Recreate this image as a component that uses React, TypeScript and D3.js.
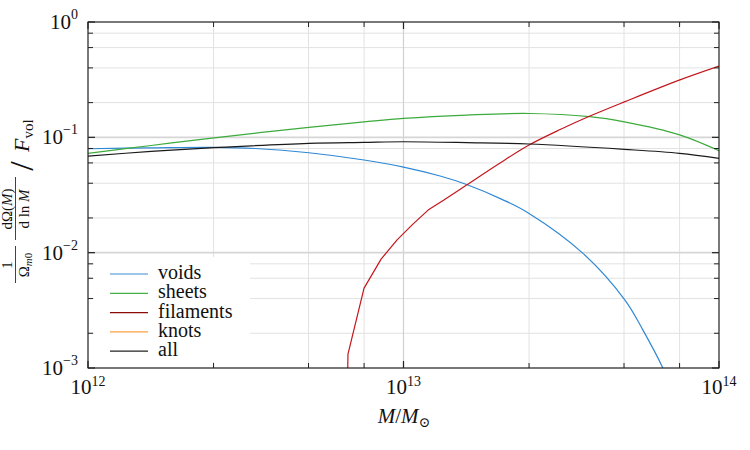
import React from "react";
import * as d3 from "d3";

// log10(M) samples and values
const voidsLogM = [12.0, 12.2, 12.4, 12.53, 12.7, 12.875, 13.0, 13.116, 13.2, 13.312, 13.398, 13.569, 13.702, 13.759, 13.822, 13.9];
const voidsVal = [0.0796, 0.081, 0.0819, 0.080, 0.0735, 0.0636, 0.0552, 0.0462, 0.039, 0.029, 0.0219, 0.00986, 0.00388, 0.00213, 0.001, 0.0003];

const sheetsLogM = [12.0, 12.2, 12.4, 12.7, 12.875, 13.0, 13.2, 13.398, 13.59, 13.7, 13.875, 14.0];
const sheetsVal = [0.0727, 0.085, 0.099, 0.122, 0.136, 0.146, 0.156, 0.161, 0.151, 0.136, 0.105, 0.0765];

const filamentsLogM = [12.774, 12.824, 12.875, 12.929, 12.979, 13.029, 13.078, 13.128, 13.2, 13.3, 13.398, 13.5, 13.591, 13.702, 13.876, 14.0];
const filamentsVal = [1e-12, 0.00132, 0.00493, 0.00879, 0.01286, 0.0176, 0.0234, 0.0286, 0.0386, 0.0585, 0.0858, 0.118, 0.153, 0.204, 0.315, 0.415];

const knotsLogM: number[] = [];
const knotsVal: number[] = [];

const allLogM = [12.0, 12.2, 12.4, 12.7, 12.875, 13.0, 13.2, 13.398, 13.7, 13.875, 14.0];
const allVal = [0.0688, 0.0755, 0.0813, 0.0887, 0.0905, 0.0916, 0.090, 0.0875, 0.0787, 0.0727, 0.0658];

const legendNames = ["voids", "sheets", "filaments", "knots", "all"];
const legendColors = ["#3a8cd2", "#45b045", "#8b0a0a", "#ffa040", "#222222"];

const xMajor = [1e12, 1e13, 1e14];
const xMajorExp = ["12", "13", "14"];
const xMinorMant = [2.5, 5, 7.5];
const yMajor = [1e-3, 1e-2, 1e-1, 1];
const yMajorExp = ["−3", "−2", "−1", "0"];
const yMinorMant = [2, 4, 6, 8];

const W = 750, H = 450;
const left = 88, right = 719, top = 22, bottom = 368;
const font = '"Liberation Serif", "DejaVu Serif", "Times New Roman", serif';

export default function App() {
  const x = d3.scaleLog().domain([1e12, 1e14]).range([left, right]);
  const y = d3.scaleLog().domain([1e-3, 1]).range([bottom, top]);

  const xMinor: number[] = [];
  [1e12, 1e13].forEach(d => xMinorMant.forEach(m => xMinor.push(m * d)));
  const yMinor: number[] = [];
  [1e-3, 1e-2, 1e-1].forEach(d => yMinorMant.forEach(m => yMinor.push(m * d)));

  const mk = (lm: number[], v: number[], curve: any) =>
    d3.line<number>()
      .x((_, i) => x(Math.pow(10, lm[i])))
      .y((_, i) => Math.min(y(Math.max(v[i], 1e-12)), 2000))
      .curve(curve)(v) || "";

  // filaments: sampled kinks at the low end, smooth above
  const kink = 8;
  const filLow = mk(filamentsLogM.slice(0, kink), filamentsVal.slice(0, kink), d3.curveLinear);
  const filHigh = mk(filamentsLogM.slice(kink - 1), filamentsVal.slice(kink - 1), d3.curveCatmullRom);

  const series = [
    { d: mk(voidsLogM, voidsVal, d3.curveCatmullRom), c: "#2f88d4" },
    { d: mk(sheetsLogM, sheetsVal, d3.curveCatmullRom), c: "#3cab3c" },
    { d: filLow, c: "#c4161c" },
    { d: filHigh, c: "#c4161c" },
    { d: mk(knotsLogM, knotsVal, d3.curveLinear), c: "#ffa040" },
    { d: mk(allLogM, allVal, d3.curveCatmullRom), c: "#1a1a1a" },
  ];

  return (
    <div style={{ position: "absolute", left: 0, top: 0 }}>
      <svg width={W} height={H} style={{ display: "block", background: "#fff", fontFamily: font }}>
        <defs>
          <clipPath id="plotclip">
            <rect x={left} y={top} width={right - left} height={bottom - top} />
          </clipPath>
        </defs>
        {/* grid */}
        <g>
          {xMinor.map((v, i) => (
            <line key={"gx" + i} x1={x(v)} x2={x(v)} y1={top} y2={bottom} stroke="#e2e2e2" strokeWidth={1} />
          ))}
          {yMinor.map((v, i) => (
            <line key={"gy" + i} y1={y(v)} y2={y(v)} x1={left} x2={right} stroke="#e2e2e2" strokeWidth={1} />
          ))}
          {xMajor.map((v, i) => (
            <line key={"gX" + i} x1={x(v)} x2={x(v)} y1={top} y2={bottom} stroke="#d0d0d0" strokeWidth={1.2} />
          ))}
          {yMajor.map((v, i) => (
            <line key={"gY" + i} y1={y(v)} y2={y(v)} x1={left} x2={right} stroke="#d6d6d6" strokeWidth={1.6} />
          ))}
        </g>
        {/* curves */}
        <g clipPath="url(#plotclip)" fill="none">
          {series.map((s, i) => (
            <path key={i} d={s.d} stroke={s.c} strokeWidth={1.2} strokeLinejoin="round" />
          ))}
        </g>
        {/* legend */}
        <rect x={94} y={257} width={156} height={105} fill="#fff" />
        {legendNames.map((n, i) => {
          const ly = 274 + i * 19.3;
          return (
            <g key={n}>
              <line x1={110} x2={148} y1={ly} y2={ly} stroke={legendColors[i]} strokeWidth={1.2} />
              <text x={158} y={ly + 5} fontSize={20} fill="#111">{n}</text>
            </g>
          );
        })}
        {/* frame */}
        <rect x={left} y={top} width={right - left} height={bottom - top} fill="none" stroke="#111" strokeWidth={1} />
        {/* ticks */}
        <g stroke="#222">
          {xMinor.map((v, i) => (
            <g key={"tx" + i}>
              <line x1={x(v)} x2={x(v)} y1={bottom} y2={bottom - 5} strokeWidth={1} />
              <line x1={x(v)} x2={x(v)} y1={top} y2={top + 5} strokeWidth={1} />
            </g>
          ))}
          {xMajor.map((v, i) => (
            <g key={"tX" + i}>
              <line x1={x(v)} x2={x(v)} y1={bottom} y2={bottom - 7} strokeWidth={1.2} />
              <line x1={x(v)} x2={x(v)} y1={top} y2={top + 7} strokeWidth={1.2} />
            </g>
          ))}
          {yMinor.map((v, i) => (
            <g key={"ty" + i}>
              <line y1={y(v)} y2={y(v)} x1={left} x2={left + 5} strokeWidth={1} />
              <line y1={y(v)} y2={y(v)} x1={right} x2={right - 5} strokeWidth={1} />
            </g>
          ))}
          {yMajor.map((v, i) => (
            <g key={"tY" + i}>
              <line y1={y(v)} y2={y(v)} x1={left} x2={left + 7} strokeWidth={1.2} />
              <line y1={y(v)} y2={y(v)} x1={right} x2={right - 7} strokeWidth={1.2} />
            </g>
          ))}
        </g>
        {/* tick labels */}
        {xMajor.map((v, i) => (
          <text key={"lx" + i} x={x(v)} y={394} fontSize={21} textAnchor="middle" fill="#111">
            10<tspan fontSize={14} dy={-8}>{xMajorExp[i]}</tspan>
          </text>
        ))}
        {yMajor.map((v, i) => (
          <text key={"ly" + i} x={78} y={y(v) + 7} fontSize={21} textAnchor="end" fill="#111">
            10<tspan fontSize={14} dy={-10}>{yMajorExp[i]}</tspan>
          </text>
        ))}
        {/* x label */}
        <text x={404} y={423} fontSize={21} textAnchor="middle" fill="#111">
          <tspan fontStyle="italic">M</tspan>/<tspan fontStyle="italic">M</tspan>
          <tspan fontSize={14} dy={4}>⊙</tspan>
        </text>
        {/* y label */}
        <g transform="translate(0,290) rotate(-90)" fill="#111">
          <text x={25} y={12} fontSize={15} textAnchor="middle">1</text>
          <line x1={7} x2={44} y1={15.5} y2={15.5} stroke="#111" strokeWidth={0.8} />
          <text x={25} y={29} fontSize={15} textAnchor="middle">
            Ω<tspan fontStyle="italic" fontSize={11} dy={3}>m</tspan><tspan fontSize={11}>0</tspan>
          </text>
          <text x={81} y={12} fontSize={15} textAnchor="middle">
            dΩ(<tspan fontStyle="italic">M</tspan>)
          </text>
          <line x1={50} x2={113} y1={15.5} y2={15.5} stroke="#111" strokeWidth={0.8} />
          <text x={81} y={29} fontSize={15} textAnchor="middle">
            d ln <tspan fontStyle="italic">M</tspan>
          </text>
          <text x={124} y={33} fontSize={34} textAnchor="middle">/</text>
          <text x={138} y={29} fontSize={22}>
            <tspan fontStyle="italic">F</tspan><tspan fontSize={15} dy={4}>vol</tspan>
          </text>
        </g>
      </svg>
    </div>
  );
}
